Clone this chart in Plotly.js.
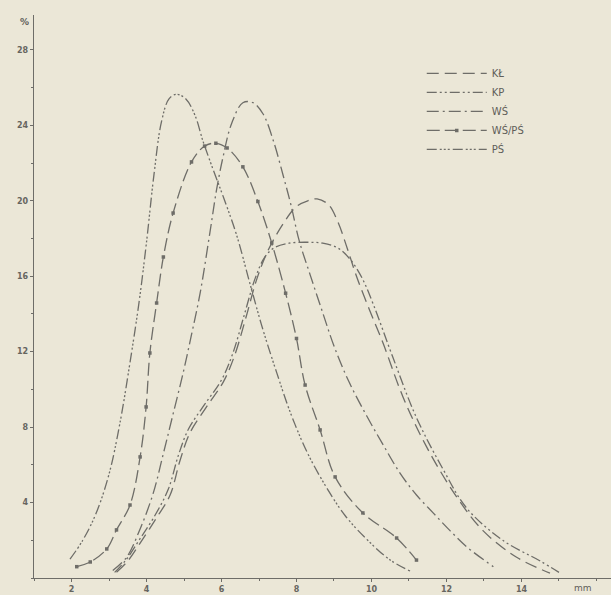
<!DOCTYPE html>
<html>
<head>
<meta charset="utf-8">
<script src="https://cdn.plot.ly/plotly-3.0.1.min.js"></script>
<style>html,body{margin:0;padding:0;background:#ebe7d7;}#chart{width:611px;height:595px;}</style>
</head>
<body>
<div id="chart"></div>
<script>
// Grain size (mm) vs. percentage for five series
const seriesNames = ["KŁ", "KP", "WŚ", "WŚ/PŚ", "PŚ"];

const klX = [3.2, 3.5, 3.83, 4.27, 4.63, 4.89, 5.16, 5.6, 6.05, 6.35, 6.65, 6.95, 7.25, 7.65, 8.0, 8.3, 8.55, 8.85, 9.1, 9.35, 9.6, 9.95, 10.3, 10.84, 11.47, 12.27, 12.98, 13.87, 14.76];
const klY = [0.3, 0.9, 1.85, 3.2, 4.4, 6.2, 7.7, 9.07, 10.4, 11.8, 13.8, 15.9, 17.4, 18.8, 19.7, 20.0, 20.1, 19.8, 18.9, 17.5, 16.0, 14.2, 12.5, 9.6, 6.95, 4.3, 2.5, 1.1, 0.26];

const kpX = [3.15, 3.45, 3.8, 4.22, 4.58, 4.85, 5.12, 5.55, 6.0, 6.3, 6.6, 6.9, 7.15, 7.4, 7.8, 8.3, 8.7, 9.1, 9.43, 9.75, 10.05, 10.57, 11.2, 11.9, 12.54, 13.5, 14.5, 15.0];
const kpY = [0.3, 0.95, 2.0, 3.3, 4.7, 6.5, 7.9, 9.2, 10.5, 11.9, 13.9, 15.9, 17.0, 17.5, 17.75, 17.8, 17.75, 17.5, 16.9, 15.9, 14.5, 11.7, 8.5, 5.8, 3.7, 2.0, 0.9, 0.3];

const wsX = [3.1, 3.47, 3.83, 4.18, 4.45, 4.71, 4.98, 5.2, 5.43, 5.69, 5.87, 6.05, 6.27, 6.57, 6.84, 7.11, 7.38, 7.65, 7.85, 8.07, 8.36, 8.71, 9.0, 9.4, 9.87, 10.3, 10.76, 11.2, 11.65, 12.1, 12.54, 13.25];
const wsY = [0.4, 1.1, 2.6, 4.5, 6.6, 8.7, 10.9, 12.9, 15.1, 18.3, 20.6, 22.4, 24.1, 25.2, 25.2, 24.6, 23.2, 21.3, 19.8, 17.9, 16.1, 14.0, 12.3, 10.4, 8.6, 7.1, 5.56, 4.4, 3.44, 2.5, 1.65, 0.6];

const wsPsX = [2.14, 2.5, 2.94, 3.2, 3.56, 3.83, 3.99, 4.09, 4.27, 4.45, 4.71, 5.2, 5.55, 5.85, 6.15, 6.57, 6.97, 7.34, 7.71, 8.0, 8.23, 8.63, 9.03, 9.77, 10.67, 11.2];
const wsPsY = [0.6, 0.85, 1.54, 2.55, 3.87, 6.42, 9.07, 11.93, 14.58, 17.02, 19.35, 22.06, 22.9, 23.05, 22.8, 21.8, 19.96, 17.76, 15.1, 12.7, 10.23, 7.85, 5.36, 3.45, 2.12, 0.95];

const psX = [1.96, 2.3, 2.65, 3.0, 3.3, 3.55, 3.8, 4.0, 4.2, 4.4, 4.6, 4.8, 5.05, 5.3, 5.5, 5.75, 6.05, 6.4, 6.76, 7.1, 7.47, 7.85, 8.3, 8.8, 9.3, 9.9, 10.5, 11.05];
const psY = [1.0, 2.0, 3.4, 5.5, 8.3, 11.3, 14.6, 17.8, 21.4, 24.2, 25.4, 25.65, 25.4, 24.5, 23.2, 21.8, 20.2, 18.2, 15.6, 13.2, 10.9, 8.7, 6.6, 4.8, 3.3, 2.0, 0.95, 0.35];

const xTickVals = [2, 4, 6, 8, 10, 12, 14];
const xTickText = ["2", "4", "6", "8", "10", "12", "14"];
const yTickVals = [4, 8, 12, 16, 20, 24, 28];
const yTickText = ["4", "8", "12", "16", "20", "24", "28"];

const ink = "#6e6d68";
const bg = "#ebe7d7";
const lw = 1.3;

function curve(name, x, y, dash, extra) {
  const t = {
    type: "scatter", mode: "lines", name: name, x: x, y: y,
    line: {color: ink, width: lw, dash: dash, shape: "spline", smoothing: 1},
    hoverinfo: "skip"
  };
  return Object.assign(t, extra || {});
}

const traces = [
  curve(seriesNames[0], klX, klY, "12px,6px"),
  curve(seriesNames[1], kpX, kpY, "10px,3px,2px,3px,2px,3px"),
  curve(seriesNames[2], wsX, wsY, "12px,4px,2px,4px"),
  curve(seriesNames[3], wsPsX, wsPsY, "13px,5px", {mode: "lines+markers", marker: {symbol: "square", size: 3.5, color: ink}}),
  curve(seriesNames[4], psX, psY, "10px,3px,2px,2px,2px,2px,2px,3px")
];

const tickFont = {family: "DejaVu Sans", size: 8, color: "#66655f", weight: "bold"};

const layout = {
  width: 611, height: 595,
  margin: {l: 34, r: 0, t: 15, b: 17, pad: 0},
  paper_bgcolor: bg, plot_bgcolor: bg,
  showlegend: true,
  legend: {
    x: 0.672, y: 0.922, xanchor: "left", yanchor: "top",
    bgcolor: "rgba(0,0,0,0)", borderwidth: 0,
    font: {family: "DejaVu Sans", size: 10, color: "#5f5e59"},
    itemwidth: 60, tracegroupgap: 0, traceorder: "normal"
  },
  xaxis: {
    range: [1, 16.387], showgrid: false, zeroline: false,
    showline: true, linecolor: ink, linewidth: 1.2,
    ticks: "outside", ticklen: 3, tickcolor: ink, tickwidth: 1,
    tickvals: xTickVals, ticktext: xTickText,
    minor: {dtick: 1, tick0: 1, ticks: "outside", ticklen: 2, tickcolor: ink},
    tickfont: tickFont,
    fixedrange: true
  },
  yaxis: {
    range: [0, 29.85], showgrid: false, zeroline: false,
    showline: true, linecolor: ink, linewidth: 1.2,
    ticks: "outside", ticklen: 3, tickcolor: ink, tickwidth: 1,
    tickvals: yTickVals, ticktext: yTickText,
    minor: {dtick: 2, tick0: 0, ticks: "outside", ticklen: 2, tickcolor: ink},
    tickfont: tickFont,
    fixedrange: true
  },
  annotations: [
    {xref: "paper", yref: "paper", x: -0.005, y: 1.0, xanchor: "right", yanchor: "bottom",
     yshift: -14, text: "%", showarrow: false, font: {family: "DejaVu Sans", size: 9, color: "#5f5e59", weight: "bold"}},
    {xref: "paper", yref: "paper", x: 0.952, y: 0, xanchor: "center", yanchor: "top",
     yshift: -3, text: "mm", showarrow: false, font: {family: "DejaVu Sans", size: 9, color: "#5f5e59"}}
  ]
};

Plotly.newPlot("chart", traces, layout, {displayModeBar: false, staticPlot: true});
</script>
</body>
</html>
